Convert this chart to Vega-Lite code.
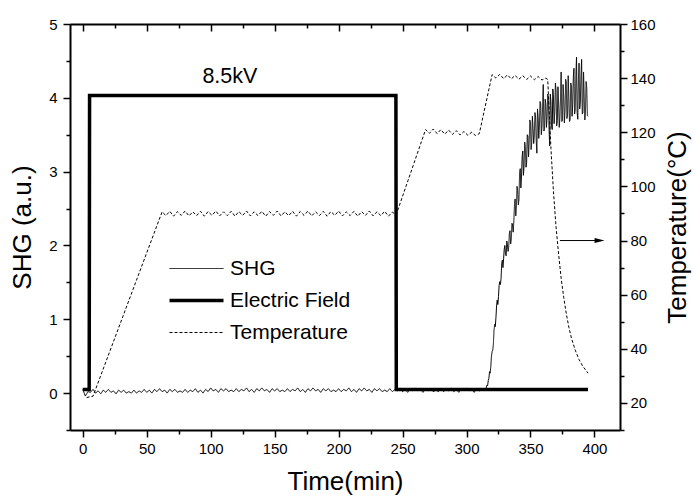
{
"$schema":"https://vega.github.io/schema/vega-lite/v6.json",
"width":550,"height":406,
"autosize":{"type":"none"},
"padding":{"left":70,"top":24,"right":74,"bottom":68},
"config":{"font":"Liberation Sans","view":{"stroke":null},
"axis":{"grid":false,"domainColor":"#000000","tickColor":"#000000","labelColor":"#000000","titleColor":"#000000","labelFont":"Liberation Sans","titleFont":"Liberation Sans","labelFontSize":15,"titleFontSize":26,"titleFontWeight":"normal","domainWidth":2,"tickWidth":1.5,"domainOpacity":1,"tickOpacity":1}},
"datasets":{
"E":[{"t":0,"v":0.05},{"t":5,"v":0.05},{"t":5.3,"v":4.03},{"t":244.8,"v":4.03},{"t":245.1,"v":0.05},{"t":395,"v":0.05}],
"S":[{"t":0,"v":0.05},{"t":2,"v":-0.04},{"t":4,"v":0.02},{"t":6,"v":0.01},{"t":8,"v":0.05},{"t":10,"v":0.0},{"t":12,"v":0.03},{"t":14,"v":-0.01},{"t":16,"v":0.04},{"t":18,"v":0.01},{"t":20,"v":0.05},{"t":22,"v":0.01},{"t":24,"v":0.03},{"t":26,"v":-0.01},{"t":28,"v":0.04},{"t":30,"v":0.01},{"t":32,"v":0.04},{"t":34,"v":0.0},{"t":36,"v":0.02},{"t":38,"v":0.0},{"t":40,"v":0.04},{"t":42,"v":0.0},{"t":44,"v":0.03},{"t":46,"v":0.01},{"t":48,"v":0.05},
{"t":50,"v":0.01},{"t":52,"v":0.04},{"t":54,"v":0.0},{"t":56,"v":0.05},{"t":58,"v":0.02},{"t":60,"v":0.06},{"t":62,"v":0.02},{"t":64,"v":0.04},{"t":66,"v":0.0},{"t":68,"v":0.05},{"t":70,"v":0.02},{"t":72,"v":0.05},{"t":74,"v":0.01},{"t":76,"v":0.03},{"t":78,"v":0.01},{"t":80,"v":0.05},{"t":82,"v":0.01},{"t":84,"v":0.04},{"t":86,"v":0.02},{"t":88,"v":0.06},{"t":90,"v":0.01},{"t":92,"v":0.04},{"t":94,"v":0.0},{"t":96,"v":0.05},{"t":98,"v":0.02},
{"t":100,"v":0.07},{"t":102,"v":0.03},{"t":104,"v":0.05},{"t":106,"v":0.01},{"t":108,"v":0.06},{"t":110,"v":0.03},{"t":112,"v":0.06},{"t":114,"v":0.02},{"t":116,"v":0.04},{"t":118,"v":0.02},{"t":120,"v":0.06},{"t":122,"v":0.02},{"t":124,"v":0.05},{"t":126,"v":0.03},{"t":128,"v":0.07},{"t":130,"v":0.02},{"t":132,"v":0.05},{"t":134,"v":0.01},{"t":136,"v":0.06},{"t":138,"v":0.03},{"t":140,"v":0.07},{"t":142,"v":0.03},{"t":144,"v":0.05},{"t":146,"v":0.01},{"t":148,"v":0.06},{"t":150,"v":0.03},{"t":152,"v":0.06},{"t":154,"v":0.02},{"t":156,"v":0.04},{"t":158,"v":0.02},{"t":160,"v":0.06},{"t":162,"v":0.02},{"t":164,"v":0.05},{"t":166,"v":0.03},{"t":168,"v":0.07},{"t":170,"v":0.02},{"t":172,"v":0.05},{"t":174,"v":0.01},{"t":176,"v":0.06},{"t":178,"v":0.03},{"t":180,"v":0.07},{"t":182,"v":0.03},{"t":184,"v":0.05},{"t":186,"v":0.01},{"t":188,"v":0.06},{"t":190,"v":0.03},{"t":192,"v":0.06},{"t":194,"v":0.02},{"t":196,"v":0.04},{"t":198,"v":0.02},{"t":200,"v":0.06},{"t":202,"v":0.02},{"t":204,"v":0.05},{"t":206,"v":0.03},{"t":208,"v":0.07},{"t":210,"v":0.02},{"t":212,"v":0.05},{"t":214,"v":0.01},{"t":216,"v":0.06},{"t":218,"v":0.03},{"t":220,"v":0.07},{"t":222,"v":0.03},{"t":224,"v":0.05},{"t":226,"v":0.01},{"t":228,"v":0.06},{"t":230,"v":0.03},{"t":232,"v":0.06},{"t":234,"v":0.02},{"t":236,"v":0.04},{"t":238,"v":0.02},{"t":240,"v":0.06},{"t":242,"v":0.02},{"t":244,"v":0.05},{"t":246,"v":0.03},{"t":248,"v":0.07},{"t":250,"v":0.02},{"t":252,"v":0.05},{"t":254,"v":0.01},{"t":256,"v":0.06},{"t":258,"v":0.03},{"t":260,"v":0.07},{"t":262,"v":0.03},{"t":264,"v":0.05},{"t":266,"v":0.01},{"t":268,"v":0.06},{"t":270,"v":0.03},{"t":272,"v":0.06},{"t":274,"v":0.02},{"t":276,"v":0.04},{"t":278,"v":0.02},{"t":280,"v":0.06},{"t":282,"v":0.02},{"t":284,"v":0.05},{"t":286,"v":0.03},{"t":288,"v":0.07},{"t":290,"v":0.02},{"t":292,"v":0.05},{"t":294,"v":0.01},{"t":296,"v":0.06},{"t":298,"v":0.03},{"t":300,"v":0.07},{"t":302,"v":0.03},{"t":304,"v":0.05},{"t":306,"v":0.01},{"t":308,"v":0.06},{"t":310,"v":0.03},{"t":312,"v":0.06},
{"t":314,"v":0.06},{"t":315,"v":0.05},{"t":316,"v":0.11},{"t":316.5,"v":0.1},{"t":317,"v":0.17},{"t":317.5,"v":0.2},{"t":318,"v":0.29},{"t":318.5,"v":0.27},{"t":319,"v":0.36},{"t":319.5,"v":0.5},{"t":320,"v":0.56},{"t":320.5,"v":0.58},{"t":321,"v":0.66},{"t":321.5,"v":0.85},{"t":322,"v":0.93},{"t":322.5,"v":0.9},{"t":323,"v":1.02},{"t":323.5,"v":1.18},{"t":324,"v":1.26},{"t":324.5,"v":1.2},{"t":325,"v":1.31},{"t":325.5,"v":1.46},{"t":326,"v":1.51},{"t":326.5,"v":1.47},{"t":327,"v":1.55},{"t":327.5,"v":1.75},{"t":328,"v":1.8},{"t":328.5,"v":1.7},{"t":329,"v":1.82},{"t":329.5,"v":1.95},{"t":330,"v":2.0},{"t":330.5,"v":1.88},{"t":331,"v":1.86},{"t":331.5,"v":2.06},{"t":332,"v":2.01},{"t":332.5,"v":1.92},{"t":333,"v":1.98},{"t":333.5,"v":2.16},{"t":334,"v":2.2},{"t":334.5,"v":2.02},{"t":335,"v":2.08},{"t":335.5,"v":2.3},{"t":336,"v":2.29},{"t":336.5,"v":2.18},{"t":337,"v":2.33},{"t":337.5,"v":2.55},{"t":338,"v":2.63},{"t":338.5,"v":2.4},{"t":339,"v":2.52},{"t":339.5,"v":2.8},{"t":340,"v":2.74},{"t":340.5,"v":2.55},{"t":341,"v":2.62},{"t":341.5,"v":2.98},{"t":342,"v":3.04},{"t":342.5,"v":2.78},{"t":343,"v":2.94},{"t":343.5,"v":3.2},{"t":344,"v":3.28},{"t":344.5,"v":2.95},{"t":345,"v":3.08},{"t":345.5,"v":3.4},{"t":346,"v":3.33},{"t":346.5,"v":3.06},{"t":347,"v":3.12},{"t":347.5,"v":3.5},{"t":348,"v":3.48},{"t":348.5,"v":3.2},{"t":349,"v":3.4},{"t":349.5,"v":3.7},{"t":350,"v":3.66},{"t":350.5,"v":3.3},{"t":351,"v":3.4},{"t":351.5,"v":3.75},{"t":352,"v":3.59},{"t":352.5,"v":3.38},{"t":353,"v":3.48},{"t":353.5,"v":3.8},{"t":354,"v":3.74},{"t":354.5,"v":3.42},{"t":355,"v":3.25},{"t":355.5,"v":3.85},{"t":356,"v":3.73},{"t":356.5,"v":3.45},{"t":357,"v":3.62},{"t":357.5,"v":3.95},{"t":358,"v":3.92},{"t":358.5,"v":3.5},{"t":359,"v":3.61},{"t":359.5,"v":3.9},{"t":360,"v":4.18},{"t":360.5,"v":3.55},{"t":361,"v":3.58},{"t":361.5,"v":3.98},{"t":362,"v":3.92},{"t":362.5,"v":3.6},{"t":363,"v":3.73},{"t":363.5,"v":4.05},{"t":364,"v":3.99},{"t":364.5,"v":3.6},{"t":365,"v":3.35},{"t":365.5,"v":4.05},{"t":366,"v":3.95},{"t":366.5,"v":3.62},{"t":367,"v":3.57},{"t":367.5,"v":4.12},{"t":368,"v":4.0},{"t":368.5,"v":3.65},{"t":369,"v":3.81},{"t":369.5,"v":4.2},{"t":370,"v":4.1},{"t":370.5,"v":3.62},{"t":371,"v":3.69},{"t":371.5,"v":4.15},{"t":372,"v":3.93},{"t":372.5,"v":3.6},{"t":373,"v":3.73},{"t":373.5,"v":4.0},{"t":374,"v":4.35},{"t":374.5,"v":3.68},{"t":375,"v":3.7},{"t":375.5,"v":4.18},{"t":376,"v":4.0},{"t":376.5,"v":3.66},{"t":377,"v":3.82},{"t":377.5,"v":4.25},{"t":378,"v":4.21},{"t":378.5,"v":3.72},{"t":379,"v":3.77},{"t":379.5,"v":4.3},{"t":380,"v":4.01},{"t":380.5,"v":3.68},{"t":381,"v":3.7},{"t":381.5,"v":4.2},{"t":382,"v":4.16},{"t":382.5,"v":3.75},{"t":383,"v":3.89},{"t":383.5,"v":4.28},{"t":384,"v":4.4},{"t":384.5,"v":3.78},{"t":385,"v":3.84},{"t":385.5,"v":4.3},{"t":386,"v":4.55},{"t":386.5,"v":3.8},{"t":387,"v":3.71},{"t":387.5,"v":4.25},{"t":388,"v":4.47},{"t":388.5,"v":3.85},{"t":389,"v":3.94},{"t":389.5,"v":4.3},{"t":390,"v":4.52},{"t":390.5,"v":3.78},{"t":391,"v":3.8},{"t":391.5,"v":4.35},{"t":392,"v":4.02},{"t":392.5,"v":3.7},{"t":393,"v":3.81},{"t":393.5,"v":4.22},{"t":394,"v":4.14},{"t":394.5,"v":3.76},{"t":395,"v":3.75}],
"T":[{"t":3,"v":22},{"t":8,"v":22.5},{"t":62,"v":90.6},{"t":65,"v":89.2},{"t":68,"v":90.8},{"t":71,"v":89.0},{"t":74,"v":90.7},{"t":77,"v":89.3},{"t":80,"v":90.9},{"t":83,"v":89.1},{"t":86,"v":90.6},{"t":89,"v":89.2},{"t":92,"v":90.8},{"t":95,"v":89.0},{"t":98,"v":90.7},{"t":101,"v":89.3},{"t":104,"v":90.9},{"t":107,"v":89.1},{"t":110,"v":90.6},{"t":113,"v":89.2},{"t":116,"v":90.8},{"t":119,"v":89.0},{"t":122,"v":90.7},{"t":125,"v":89.3},{"t":128,"v":90.9},{"t":131,"v":89.1},{"t":134,"v":90.6},{"t":137,"v":89.2},{"t":140,"v":90.8},{"t":143,"v":89.0},{"t":146,"v":90.7},{"t":149,"v":89.3},{"t":152,"v":90.9},{"t":155,"v":89.1},{"t":158,"v":90.6},{"t":161,"v":89.2},{"t":164,"v":90.8},{"t":167,"v":89.0},{"t":170,"v":90.7},{"t":173,"v":89.3},{"t":176,"v":90.9},{"t":179,"v":89.1},{"t":182,"v":90.6},{"t":185,"v":89.2},{"t":188,"v":90.8},{"t":191,"v":89.0},{"t":194,"v":90.7},{"t":197,"v":89.3},{"t":200,"v":90.9},{"t":203,"v":89.1},{"t":206,"v":90.6},{"t":209,"v":89.2},{"t":212,"v":90.8},{"t":215,"v":89.0},{"t":218,"v":90.7},{"t":221,"v":89.3},{"t":224,"v":90.9},{"t":227,"v":89.1},{"t":230,"v":90.6},{"t":233,"v":89.2},{"t":236,"v":90.8},{"t":239,"v":89.0},{"t":242,"v":90.5},{"t":245,"v":89.5},{"t":268,"v":121},{"t":271,"v":119.6},{"t":274,"v":121.2},{"t":277,"v":119.5},{"t":280,"v":121.0},{"t":283,"v":119.3},{"t":286,"v":120.8},{"t":289,"v":119.2},{"t":292,"v":120.6},{"t":295,"v":119.0},{"t":298,"v":120.3},{"t":301,"v":118.9},{"t":304,"v":120.0},{"t":307,"v":118.8},{"t":310,"v":119.5},{"t":320,"v":141.3},{"t":323,"v":140.0},{"t":326,"v":141.4},{"t":329,"v":139.8},{"t":332,"v":141.2},{"t":335,"v":139.7},{"t":338,"v":141.0},{"t":341,"v":139.6},{"t":344,"v":140.9},{"t":347,"v":139.5},{"t":350,"v":140.8},{"t":353,"v":139.4},{"t":356,"v":140.6},{"t":359,"v":139.3},{"t":362,"v":140.0},{"t":363.5,"v":139.5},{"t":366,"v":114},{"t":368,"v":98},{"t":370,"v":85},{"t":372,"v":75},{"t":374,"v":66},{"t":376,"v":59},{"t":378,"v":53},{"t":380,"v":48},{"t":382,"v":44},{"t":385,"v":39.5},{"t":388,"v":36},{"t":391,"v":33.5},{"t":395,"v":31}],
"A":[{"t":373,"t2":401,"tip":404,"v":80}],
"L":[{"t":115,"v":4.2,"label":"8.5kV"}]
},
"layer":[
{"layer":[
 {"data":{"name":"E"},"mark":{"type":"line","strokeWidth":3.5,"color":"black"},
  "encoding":{"x":{"field":"t","type":"quantitative"},"y":{"field":"v","type":"quantitative"},
   "strokeDash":{"datum":"Electric Field","type":"nominal","scale":{"domain":["SHG","Electric Field","Temperature"],"range":[[1,0],[1,0],[3,2]]},
    "legend":{"orient":"none","legendX":116,"legendY":234,"title":null,"symbolType":"stroke","symbolSize":2916,"symbolStrokeColor":"black","symbolStrokeWidth":1,"labelFontSize":21,"labelFont":"Liberation Sans","labelColor":"black","labelOffset":23,"rowPadding":10,"padding":0,
     "encode":{"symbols":{"update":{"strokeWidth":{"signal":"datum.value === 'Electric Field' ? 3.5 : 1"}}}}}}}},
 {"data":{"name":"S"},"mark":{"type":"line","strokeWidth":1,"color":"black"},
  "encoding":{"x":{"field":"t","type":"quantitative"},"y":{"field":"v","type":"quantitative"},"strokeDash":{"datum":"SHG","type":"nominal"}}},
 {"data":{"name":"L"},"mark":{"type":"text","fontSize":21.5,"font":"Liberation Sans","color":"black","baseline":"alphabetic","align":"center"},
  "encoding":{"x":{"field":"t","type":"quantitative"},"y":{"field":"v","type":"quantitative"},"text":{"field":"label"}}}
 ],
 "encoding":{
  "x":{"field":"t","type":"quantitative","scale":{"domain":[-10,420],"nice":false,"zero":false},
   "axis":{"orient":"bottom","title":"Time(min)","values":[0,25,50,75,100,125,150,175,200,225,250,275,300,325,350,375,400],
    "labelExpr":"datum.value % 50 === 0 ? format(datum.value, 'd') : ''","tickSize":{"condition":{"test":"datum.value % 50 === 0","value":7},"value":4},"labelPadding":4,"titlePadding":12,"domainColor":"#000000","tickColor":"#000000"}},
  "y":{"field":"v","type":"quantitative","scale":{"domain":[-0.5,5],"nice":false,"zero":false},
   "axis":{"orient":"left","title":"SHG (a.u.)","values":[-0.5,0,0.5,1,1.5,2,2.5,3,3.5,4,4.5,5],
    "labelExpr":"datum.value % 1 === 0 ? format(datum.value, 'd') : ''","tickSize":{"condition":{"test":"datum.value % 1 === 0","value":7},"value":4},"labelPadding":6,"titlePadding":13,"domainColor":"#000000","tickColor":"#000000"}}
 }
},
{"layer":[
 {"data":{"name":"T"},"mark":{"type":"line","strokeWidth":1,"color":"black"},
  "encoding":{"x":{"field":"t","type":"quantitative"},"y":{"field":"v","type":"quantitative"},"strokeDash":{"datum":"Temperature","type":"nominal"}}},
 {"data":{"name":"A"},"mark":{"type":"rule","strokeWidth":1,"color":"black"},
  "encoding":{"x":{"field":"t","type":"quantitative"},"x2":{"field":"t2"},"y":{"field":"v","type":"quantitative"}}},
 {"data":{"name":"A"},"mark":{"type":"point","shape":"M-1,-0.5L1,0L-1,0.5Z","size":100,"filled":true,"color":"black","opacity":1},
  "encoding":{"x":{"field":"tip","type":"quantitative"},"y":{"field":"v","type":"quantitative"}}}
 ],
 "encoding":{
  "x":{"field":"t","type":"quantitative","scale":{"domain":[-10,420],"nice":false,"zero":false},
   "axis":{"orient":"top","title":null,"labels":false,"values":[0,25,50,75,100,125,150,175,200,225,250,275,300,325,350,375,400],
    "tickSize":{"condition":{"test":"datum.value % 50 === 0","value":-7},"value":-4},"domainColor":"#000000","tickColor":"#000000"}},
  "y":{"field":"v","type":"quantitative","scale":{"domain":[10,160],"nice":false,"zero":false},
   "axis":{"orient":"right","title":"Temperature(°C)","values":[10,20,30,40,50,60,70,80,90,100,110,120,130,140,150,160],
    "labelExpr":"datum.value % 20 === 0 ? datum.label : ''","tickSize":{"condition":{"test":"datum.value % 20 === 0","value":7},"value":4},"labelPadding":3,"titlePadding":9,"titleAngle":270,"titleBaseline":"top","domainColor":"#000000","tickColor":"#000000"}}
 }
}
],
"resolve":{"scale":{"y":"independent"},"axis":{"x":"independent","y":"independent"}}
}
